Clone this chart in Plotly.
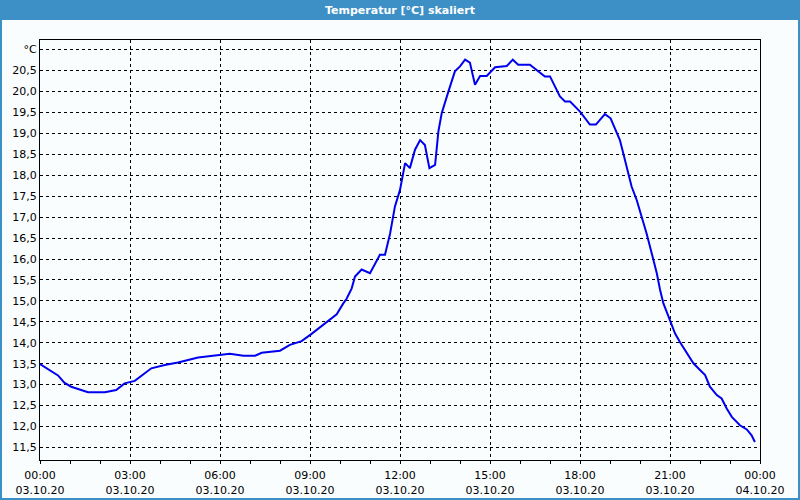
import plotly.graph_objects as go

# Data (hours since 03.10.20 00:00, °C)
hours = [0, 0.27, 0.6, 0.82, 1.04, 1.6, 2.16, 2.54, 2.82, 3.16, 3.49, 3.71, 4.16, 4.6,
         5.27, 5.93, 6.33, 6.78, 7.17, 7.39, 8.0, 8.33, 8.72, 9.03, 9.33, 9.61, 9.89,
         10.11, 10.22, 10.39, 10.5, 10.72, 11.0, 11.33, 11.5, 11.67, 11.83, 12.0, 12.17,
         12.33, 12.5, 12.67, 12.83, 12.98, 13.17, 13.28, 13.39, 13.61, 13.83, 14.0,
         14.17, 14.33, 14.5, 14.67, 14.89, 15.17, 15.56, 15.76, 15.94, 16.33, 16.61,
         16.83, 17.0, 17.33, 17.5, 17.67, 18.0, 18.33, 18.53, 18.83, 19.02, 19.22,
         19.33, 19.44, 19.61, 19.72, 19.89, 20.06, 20.22, 20.39, 20.56, 20.67, 20.78,
         20.89, 21.0, 21.17, 21.33, 21.56, 21.78, 22.0, 22.17, 22.33, 22.56, 22.72,
         22.89, 23.06, 23.33, 23.56, 23.72, 23.83]
temps = [13.49, 13.37, 13.22, 13.04, 12.95, 12.82, 12.82, 12.87, 13.03, 13.09, 13.27,
         13.39, 13.47, 13.53, 13.65, 13.70, 13.74, 13.69, 13.69, 13.76, 13.81, 13.95,
         14.04, 14.20, 14.37, 14.54, 14.68, 14.94, 15.05, 15.30, 15.58, 15.75, 15.66,
         16.10, 16.10, 16.61, 17.25, 17.65, 18.29, 18.17, 18.61, 18.84, 18.72, 18.17,
         18.25, 19.05, 19.48, 19.99, 20.48, 20.60, 20.76, 20.69, 20.16, 20.37, 20.37,
         20.58, 20.61, 20.76, 20.64, 20.64, 20.48, 20.36, 20.36, 19.88, 19.76, 19.76,
         19.52, 19.21, 19.21, 19.46, 19.36, 19.04, 18.84, 18.53, 18.05, 17.73, 17.41,
         17.01, 16.61, 16.14, 15.66, 15.26, 14.94, 14.74, 14.54, 14.22, 14.02, 13.75,
         13.51, 13.35, 13.23, 12.95, 12.75, 12.67, 12.43, 12.23, 12.03, 11.93, 11.79,
         11.63]

x_tickvals = [0, 3, 6, 9, 12, 15, 18, 21, 24]
x_times = ["00:00", "03:00", "06:00", "09:00", "12:00", "15:00", "18:00", "21:00", "00:00"]
x_dates = ["03.10.20"] * 8 + ["04.10.20"]
y_tickvals = [11.5, 12.0, 12.5, 13.0, 13.5, 14.0, 14.5, 15.0, 15.5, 16.0, 16.5, 17.0,
              17.5, 18.0, 18.5, 19.0, 19.5, 20.0, 20.5, 21.0]
y_ticktext = ["11,5", "12,0", "12,5", "13,0", "13,5", "14,0", "14,5", "15,0", "15,5",
              "16,0", "16,5", "17,0", "17,5", "18,0", "18,5", "19,0", "19,5", "20,0",
              "20,5", "°C"]
title = "Temperatur [°C] skaliert"

BLUE = "#3c90c6"
FONT = "DejaVu Sans"

fig = go.Figure()
fig.add_trace(go.Scatter(x=hours, y=temps, mode="lines",
                         line=dict(color="#0000ee", width=2), hoverinfo="skip"))

fig.update_layout(
    width=800, height=500,
    margin=dict(l=40, r=40, t=40, b=40, autoexpand=False),
    paper_bgcolor="#fafdfd", plot_bgcolor="#fafdfd",
    showlegend=False,
    font=dict(family=FONT, size=11, color="black"),
    xaxis=dict(range=[0, 24], tickvals=x_tickvals,
               ticktext=[f"{t}<br>{d}" for t, d in zip(x_times, x_dates)],
               ticks="outside", ticklen=3, tickcolor="black", ticklabelstandoff=2,
               minor=dict(dtick=1, tick0=0, ticks="outside", ticklen=3, tickcolor="black", showgrid=False),
               showgrid=True, gridcolor="black", griddash="3px,3px", gridwidth=1,
               showline=True, linecolor="black", linewidth=1, mirror=True,
               zeroline=False, fixedrange=True, automargin=False),
    yaxis=dict(range=[11.2, 21.23], tickvals=y_tickvals, ticktext=y_ticktext,
               ticks="", showgrid=True, gridcolor="black", griddash="3px,3px", gridwidth=1,
               showline=True, linecolor="black", linewidth=1, mirror=True,
               zeroline=False, fixedrange=True, automargin=False),
    shapes=[
        dict(type="rect", xref="paper", yref="paper", x0=-40/720, x1=760/720,
             y0=440/420, y1=460/420, fillcolor=BLUE, line=dict(width=0), layer="above"),
        dict(type="rect", xref="paper", yref="paper", x0=-39/720, x1=759/720,
             y0=-39/420, y1=459/420, fillcolor="rgba(0,0,0,0)",
             line=dict(color=BLUE, width=2), layer="above"),
    ],
    annotations=[
        dict(text=f"<b>{title}</b>", xref="paper", yref="paper", x=0.5, y=450/420,
             xanchor="center", yanchor="middle", showarrow=False,
             font=dict(family=FONT, size=11, color="white")),
    ],
)

fig.write_html("out.html", config={"displayModeBar": False, "staticPlot": True},
               post_script="document.body.style.margin='0';document.body.style.overflow='hidden';")
